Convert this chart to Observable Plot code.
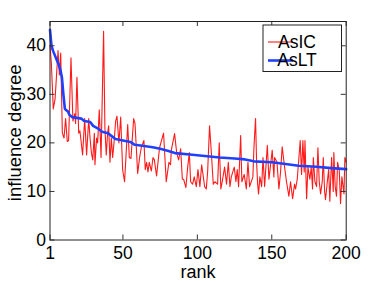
<!DOCTYPE html>
<html>
<head>
<meta charset="utf-8">
<script src="https://cdn.jsdelivr.net/npm/d3@7"></script>
<script src="https://cdn.jsdelivr.net/npm/@observablehq/plot@0.6"></script>
<style>
  html, body { margin: 0; padding: 0; background: #fff; }
  #chart { width: 382px; height: 282px; }
</style>
</head>
<body>
<div id="chart"></div>
<script>
// ---- data ----
const seriesNames = ["AsIC", "AsLT"];
const xTicks = [1, 50, 100, 150, 200];
const yTicks = [0, 10, 20, 30, 40];
const xLabel = "rank";
const yLabel = "influence degree";

const rankIC = [1.0,1.9,3.2,4.4,6.4,7.3,8.2,9.3,10.4,11.5,12.6,13.5,15.1,16.4,17.6,18.2,19.1,20.3,21.1,22.9,24.3,25.6,27.0,27.9,28.8,29.7,30.8,31.2,32.3,33.0,34.1,35.3,37.0,37.9,38.8,39.7,40.4,41.3,42.2,43.1,44.0,45.1,46.0,47.3,48.5,49.8,51.1,52.0,53.2,54.3,55.4,57.2,58.1,59.0,59.9,61.2,62.3,64.1,65.0,65.9,66.8,67.7,69.1,70.2,71.1,72.6,74.6,77.3,79.1,80.9,82.0,82.5,84.7,86.1,87.4,88.8,89.9,90.8,92.3,93.5,94.6,95.5,96.8,97.9,99.3,100.4,101.7,102.9,104.9,106.0,106.9,108.2,109.4,110.7,111.8,113.6,114.7,115.8,116.7,118.3,119.6,120.8,121.9,122.8,124.8,125.9,126.8,127.7,129.1,129.9,131.5,132.9,134.0,135.1,136.2,137.3,138.0,139.1,139.8,140.5,141.1,142.0,143.2,144.1,145.2,147.0,148.1,149.2,150.3,151.4,151.9,153.5,154.8,155.9,157.0,158.6,159.9,161.5,162.6,164.0,165.3,166.0,167.1,168.0,169.1,170.0,170.9,171.8,172.3,173.4,174.3,175.6,176.5,177.4,177.9,179.0,180.1,181.0,181.9,182.8,183.9,184.6,185.5,186.1,187.3,188.2,189.0,190.2,191.3,191.7,192.6,193.5,194.2,195.3,196.2,197.1,198.5,199.1,200];
const asIC = [40,36.5,27,29,39,34,38.5,22,21,25,20.3,20.5,37.5,24.5,26,24,33.5,22,22.5,17.5,25,17.5,25,21,18,16.5,22,15.5,21,20,26.8,17,43,23,17.5,22,23.5,16,21,17,20,24.5,25.5,20,25.3,14.5,12,17,23.8,17,16.8,25,24,19,13.7,17,19,20.5,14.5,16,14,16,14.2,17,16.5,13.2,19,22,12,16,15.5,18.5,21.9,18,16.5,18.8,12.5,12.5,10.8,15,18,12,11.5,13,11,14.5,11,15.5,11,10.5,14,23.5,18,11.5,12,11.5,20,10.5,12,15,11.5,16,11,13,15,12,14.5,11,21.5,12,13.5,10.5,16,11,12,13,19,25,16,11.5,9.5,13,11,17,11,19.5,12.5,15.5,18.5,13,17,16,10.5,14,19.2,15,12,9,12,8.5,11.5,10.5,12.5,16,20.5,13.5,20.5,14,20.5,8.5,15,12.5,15,10.5,17,12,11,19,12,9.5,12,17,10,8.3,12,14.5,8,17,10,18,11,9,16,14.5,7.5,13,9.5,17,16];

const rankLT = [1,2,3,5,7,8,9,10,11,12,13,14,16,18,22,24,28,30,33,36,40,42,45,50,55,58,63,70,75,80,85,95,105,115,125,132,138,150,158,168,180,190,200];
const asLT = [43.3,40,39,37.5,36,35,33.5,30,27,26.7,26.5,25.8,25.3,25.2,25,24.5,24.3,23.5,23,22.3,22,21.5,20.8,20.5,20.2,19.6,19.4,19.1,18.8,18.4,17.9,17.6,17.3,17,16.8,16.6,16.2,16,15.7,15.3,15.1,14.8,14.6];

const colors = ["#ff1a1a", "#2040ff"];

const icData = rankIC.map((r, i) => ({rank: r, value: asIC[i]}));
const ltData = rankLT.map((r, i) => ({rank: r, value: asLT[i]}));

const W = 382, H = 282;
const mL = 49.5, mR = 36.3, mT = 21, mB = 42.5;
const frameW = W - mL - mR, frameH = H - mT - mB;
const tickLen = 5;
const font = "'Liberation Sans', Arial, Helvetica, sans-serif";

const chart = Plot.plot({
  width: W, height: H,
  marginLeft: mL, marginRight: mR, marginTop: mT, marginBottom: mB,
  style: {fontFamily: font, fontSize: "17.5px", background: "#fff", color: "#000"},
  x: {domain: [1, 200]},
  y: {domain: [0, 45]},
  marks: [
    Plot.line(icData, {x: "rank", y: "value", stroke: colors[0], strokeWidth: 1.1}),
    Plot.line(ltData, {x: "rank", y: "value", stroke: colors[1], strokeWidth: 2.6}),
    // inward ticks on all four sides
    Plot.tickX(xTicks, {x: d => d, insetTop: frameH - tickLen, stroke: "#333"}),
    Plot.tickX(xTicks, {x: d => d, insetBottom: frameH - tickLen, stroke: "#333"}),
    Plot.tickY(yTicks, {y: d => d, insetRight: frameW - tickLen, stroke: "#333"}),
    Plot.tickY(yTicks, {y: d => d, insetLeft: frameW - tickLen, stroke: "#333"}),
    Plot.axisX({ticks: xTicks, tickSize: 0, tickPadding: 7, label: null, fontSize: 17.5, tickFormat: d => String(d)}),
    Plot.axisY({ticks: yTicks, tickSize: 0, tickPadding: 4, label: null, fontSize: 17.5, tickFormat: d => String(d)}),
    Plot.text([xLabel], {frameAnchor: "bottom", textAnchor: "middle", lineAnchor: "top", dy: 25, fontSize: 18}),
    Plot.text([yLabel], {frameAnchor: "left", textAnchor: "middle", lineAnchor: "middle", rotate: -90, dx: -34.5, dy: 2, fontSize: 18.5}),
    Plot.frame({stroke: "#222"})
  ]
});

document.getElementById("chart").appendChild(chart);

// legend box inside the plot, top-right
const svg = d3.select(chart);
const lg = svg.append("g").attr("font-family", font).attr("font-size", "17.5px");
lg.append("rect").attr("x", 263).attr("y", 25).attr("width", 78.5).attr("height", 46.5)
  .attr("fill", "#fff").attr("stroke", "#222").attr("stroke-width", 1);
seriesNames.forEach((name, i) => {
  const cy = 42 + i * 18.5;
  lg.append("line").attr("x1", 268).attr("x2", 293).attr("y1", cy).attr("y2", cy)
    .attr("stroke", colors[i]).attr("stroke-width", i === 0 ? 1.1 : 2.6);
  lg.append("text").attr("x", 297).attr("y", cy + 5.8).attr("fill", "#000").text(name);
});
</script>
</body>
</html>
